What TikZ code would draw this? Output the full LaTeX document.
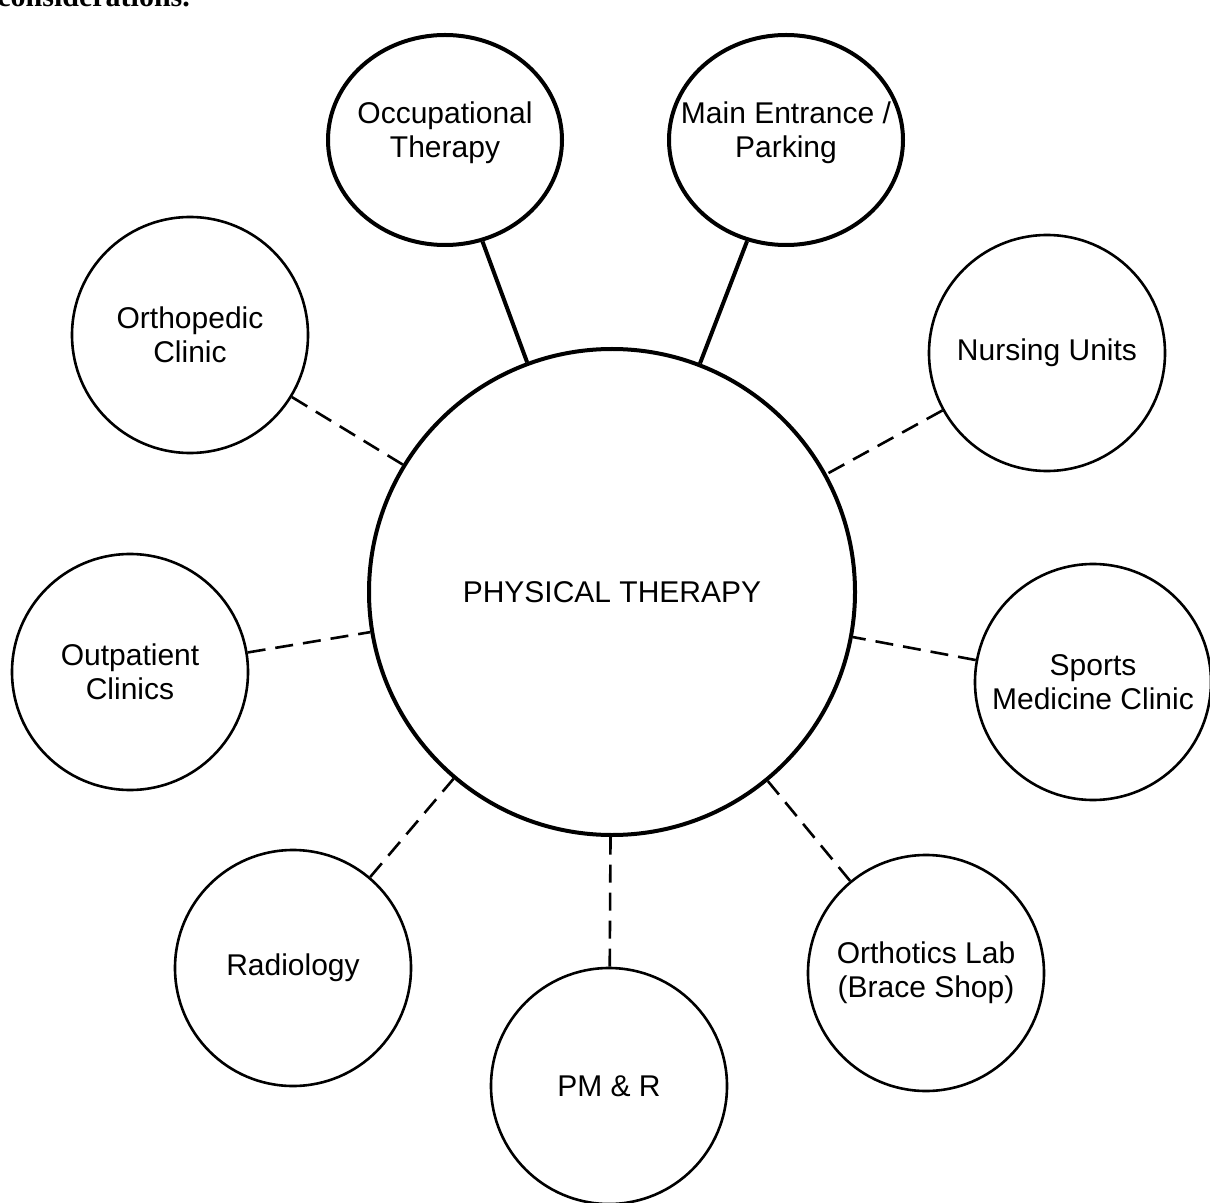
\documentclass[tikz,border=0pt]{standalone}
\usepackage{fontspec}
\setmainfont{Liberation Sans}
\newfontfamily\pageserif{Liberation Serif}
\usepackage{tikz}
\usetikzlibrary{shapes.geometric}
\tikzset{%
	unit/.style     = {draw, circle, line width=1.3pt, minimum size=118pt, inner sep=0pt, align=center, font=\fontsize{15}{17}\selectfont},
	core/.style     = {unit, line width=2pt, minimum size=243pt},
	access/.style   = {draw, ellipse, line width=2pt, minimum width=117pt, minimum height=105pt, inner sep=0pt, font=\fontsize{15}{17}\selectfont},
	solidlink/.style= {line width=2pt},
	dashlink/.style = {line width=1.3pt, dash pattern=on 9pt off 5pt},
}
\begin{document}
\begin{tikzpicture}[x=0.5pt,y=-0.5pt]
	\useasboundingbox (0,0) rectangle (1210,1203);
	\node[anchor=base west, inner sep=0pt, font=\pageserif\bfseries\fontsize{15}{18}\selectfont] (cut) at (-3,7) {considerations.};
	\node[core] (pt) at (612,592) {PHYSICAL THERAPY};
	\node[access] (occ) at (445,140) {\makebox[0pt]{\raisebox{3pt}[\height][\depth]{\begin{tabular}{@{}c@{}}Occupational\\Therapy\end{tabular}}}};
	\node[access] (entry) at (786,140) {\makebox[0pt]{\raisebox{3pt}[\height][\depth]{\begin{tabular}{@{}c@{}}Main Entrance /\\Parking\end{tabular}}}};
	\node[unit] (ortho) at (190,335) {Orthopedic\\Clinic};
	\node[unit] (nursing) at (1047,353) {Nursing Units};
	\node[unit] (outpt) at (130,672) {Outpatient\\Clinics};
	\node[unit] (sports) at (1093,682) {Sports\\Medicine Clinic};
	\node[unit] (radio) at (293,968) {Radiology};
	\node[unit] (pmr) at (609,1086) {PM \& R};
	\node[unit] (brace) at (926,973) {Orthotics Lab\\(Brace Shop)};
	\draw[solidlink] (occ) -- (pt);
	\draw[solidlink] (entry) -- (pt);
	\draw[dashlink] (ortho) -- (pt);
	\draw[dashlink] (nursing) -- (pt);
	\draw[dashlink] (outpt) -- (pt);
	\draw[dashlink] (sports) -- (pt);
	\draw[dashlink] (radio) -- (pt);
	\draw[dashlink] (pmr) -- (pt);
	\draw[dashlink] (brace) -- (pt);
\end{tikzpicture}
\end{document}
